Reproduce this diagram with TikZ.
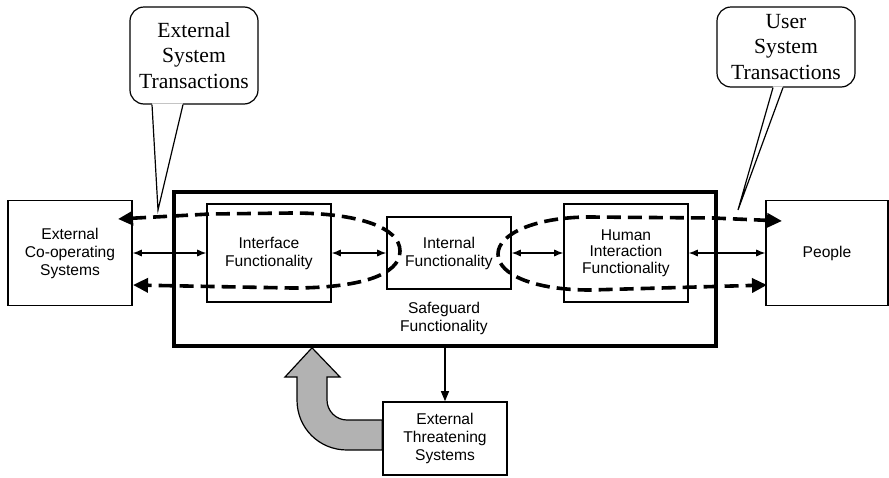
\documentclass[tikz,border=0pt]{standalone}
\usepackage{fontspec}
\setmainfont{Liberation Serif}
\setsansfont{Liberation Sans}
\usetikzlibrary{arrows.meta}

\begin{document}
\begin{tikzpicture}[x=0.5pt,y=-0.5pt,
        block/.style={draw,line width=0.8pt,inner sep=0pt,align=center,
            font=\sffamily\fontsize{7.8}{9}\selectfont,minimum width=62pt},
        bubble/.style={draw,line width=0.6pt,rounded corners=7pt,inner sep=0pt,
            align=center,font=\fontsize{10.8}{12.8}\selectfont},
        link/.style={line width=0.55pt,{Latex[length=4.5pt,width=3.6pt]}-{Latex[length=4.5pt,width=3.6pt]}},
        flow/.style={line width=1.8pt,dash pattern=on 7pt off 3.5pt,
            {Triangle[length=7.5pt,width=7pt]}-{Triangle[length=7.5pt,width=7pt]}}]

    \useasboundingbox (0,0) rectangle (889,477);

    % Outside parties
    \node[block,minimum height=52.5pt] (ext) at (70,253) {External\\Co-operating\\Systems};
    \node[block,minimum width=61pt,minimum height=52.5pt] (people) at (827,253) {People};
    \node[block,minimum height=36.5pt] (threat) at (445,438.5) {External\\Threatening\\Systems};

    % Safeguard box and its parts
    \node[draw,line width=1.8pt,minimum width=271pt,minimum height=77pt] (safe) at (445,269) {};
    \node[block,draw=none] (safelbl) at (444,318) {Safeguard\\Functionality};
    \node[block,minimum height=49pt] (iface) at (269,253) {Interface\\Functionality};
    \node[block,minimum height=36pt] (intern) at (449,253) {Internal\\Functionality};
    \node[block,minimum height=49pt,font=\sffamily\fontsize{7.8}{8.2}\selectfont] (human) at (626,253) {Human\\Interaction\\Functionality};

    % Edges
    \draw[link] (ext) -- (iface);
    \draw[link] (iface) -- (intern);
    \draw[link] (intern) -- (human);
    \draw[link] (human) -- (people);
    \draw[line width=0.55pt,-{Triangle[length=5pt,width=4pt]}] (safe.south) -- (threat.north);

    % Threat arrow
    \filldraw[fill=black!30,line width=0.6pt] (threat.west |- 0,420) -- (347,420)
        .. controls (336,420) and (327,411) .. (327,400) -- (327,377) -- (340,377)
        -- (safe.south -| 312,0) -- (285,377) -- (297,377) -- (297,400)
        .. controls (297,428) and (319,450) .. (347,450) -- (threat.west |- 0,450) -- cycle;

    % Transactions
    \coordinate (extin) at (118,219);
    \coordinate (extout) at (133,285);
    \coordinate (usrin) at (782,221);
    \coordinate (usrout) at (767,285);
    \draw[flow] (extin) -- (210,214) -- (292,213)
        .. controls (360,213) and (400,228) .. (400,251)
        .. controls (400,275) and (360,288) .. (292,288) -- (extout);
    \draw[flow] (usrin) -- (713,218) -- (590,217)
        .. controls (535,217) and (498,234) .. (498,254)
        .. controls (498,275) and (535,290) .. (590,290) -- (usrout);

    % Callouts
    \node[bubble,minimum width=64pt,minimum height=48.5pt] (extcall) at (194,55.5) {External\\System\\Transactions};
    \node[bubble,minimum width=69pt,minimum height=40pt] (usrcall) at (786,47) {User\\System\\Transactions};
    \coordinate (extptr) at (158,210);
    \coordinate (usrptr) at (738,210);
    \fill[white] ([xshift=-21pt,yshift=0.6pt]extcall.south) -- (extptr) -- ([xshift=-5.5pt,yshift=0.6pt]extcall.south) -- cycle;
    \draw[line width=0.6pt] ([xshift=-21pt]extcall.south) -- (extptr) -- ([xshift=-5.5pt]extcall.south);
    \fill[white] ([xshift=-6.5pt,yshift=0.6pt]usrcall.south) -- (usrptr) -- ([xshift=-1.5pt,yshift=0.6pt]usrcall.south) -- cycle;
    \draw[line width=0.6pt] ([xshift=-6.5pt]usrcall.south) -- (usrptr) -- ([xshift=-1.5pt]usrcall.south);
\end{tikzpicture}
\end{document}
